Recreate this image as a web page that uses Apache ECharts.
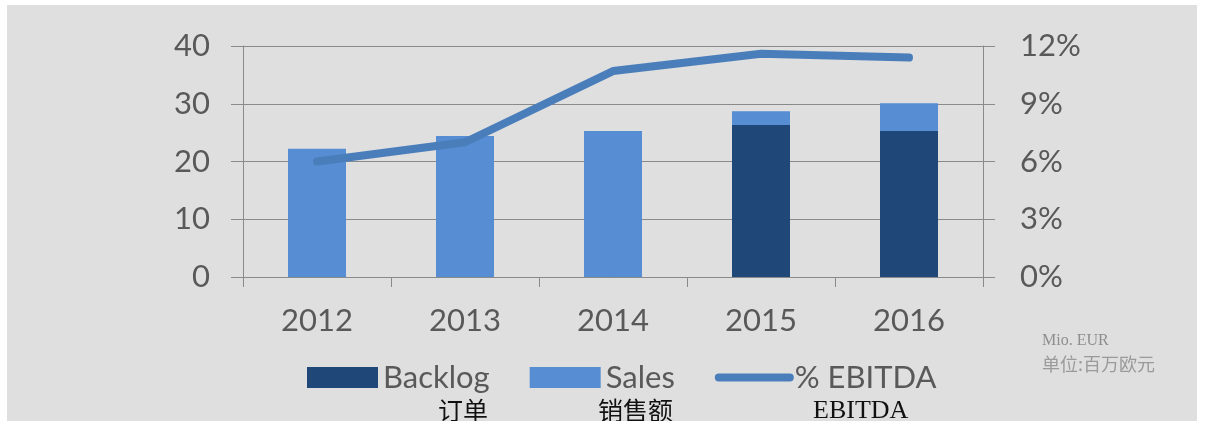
<!DOCTYPE html>
<html>
<head>
<meta charset="utf-8">
<script src="https://cdn.jsdelivr.net/npm/echarts@6/dist/echarts.min.js"></script>
<style>
  html, body { margin: 0; padding: 0; background: #ffffff; }
  #chart { width: 1209px; height: 421px; }
</style>
</head>
<body>
<div id="chart"></div>
<script>
// chart data
var years = ["2012", "2013", "2014", "2015", "2016"];
var backlog = [0, 0, 0, 26.3, 25.3];
var sales = [22.2, 24.4, 25.3, 2.4, 4.8];
var ebitdaPct = [6.0, 7.0, 10.7, 11.6, 11.4];

var leftTicks = { min: 0, max: 40, interval: 10 };
var rightTicks = { min: 0, max: 12, interval: 3 };

var myChart = echarts.init(document.getElementById("chart"), null, { renderer: "canvas" });

var axisGray = "#8a8a8a";
var labelGray = "#595959";
var font = "Lato";

var option = {
  animation: false,
  backgroundColor: "#ffffff",
  graphic: [
    // grey panel behind the chart
    { type: "rect", z: -10, shape: { x: 7, y: 5, width: 1190, height: 416 }, style: { fill: "#dfdfdf" } },
    { type: "text", style: { x: 438, y: 398, text: "订单", font: "25px 'Noto Sans CJK SC'", fill: "#111" } },
    { type: "text", style: { x: 598, y: 398, text: "销售额", font: "25px 'Noto Sans CJK SC'", fill: "#111" } },
    { type: "text", style: { x: 813, y: 398, text: "EBITDA", font: "26px 'Liberation Serif'", fill: "#111" } },
    { type: "text", style: { x: 1042, y: 333, text: "Mio. EUR", font: "16px 'Liberation Serif'", fill: "#8e8e8e" } },
    { type: "text", style: { x: 1042, y: 355, text: "单位:百万欧元", font: "18px 'Noto Sans CJK SC'", fill: "#9a9a9a" } }
  ],
  legend: {
    left: 302,
    top: 357,
    itemWidth: 71,
    itemHeight: 21,
    itemGap: 40,
    textStyle: { fontFamily: font, fontSize: 31, color: labelGray },
    data: [
      { name: "Backlog", icon: "rect" },
      { name: "Sales", icon: "rect" },
      { name: "% EBITDA", itemStyle: { opacity: 0 }, lineStyle: { width: 8, cap: "round", opacity: 1 } }
    ]
  },
  grid: { left: 243, right: 226, top: 46, bottom: 144 },
  xAxis: {
    type: "category",
    data: years,
    axisLine: { lineStyle: { color: axisGray } },
    axisTick: { show: true, length: 10, lineStyle: { color: axisGray } },
    axisLabel: { fontFamily: font, fontSize: 31, color: labelGray, margin: 28 }
  },
  yAxis: [
    {
      type: "value",
      min: leftTicks.min,
      max: leftTicks.max,
      interval: leftTicks.interval,
      axisLine: { show: true, lineStyle: { color: axisGray } },
      axisTick: { show: true, length: 12, lineStyle: { color: axisGray } },
      splitLine: { lineStyle: { color: axisGray } },
      axisLabel: { fontFamily: font, fontSize: 31, color: labelGray, margin: 33 }
    },
    {
      type: "value",
      min: rightTicks.min,
      max: rightTicks.max,
      interval: rightTicks.interval,
      axisLine: { show: true, lineStyle: { color: axisGray } },
      axisTick: { show: true, length: 12, lineStyle: { color: axisGray } },
      splitLine: { show: false },
      axisLabel: { fontFamily: font, fontSize: 31, color: labelGray, margin: 37, formatter: "{value}%" }
    }
  ],
  series: [
    {
      name: "Backlog",
      type: "bar",
      stack: "total",
      barWidth: 58,
      itemStyle: { color: "#1f4778" },
      data: backlog
    },
    {
      name: "Sales",
      type: "bar",
      stack: "total",
      barWidth: 58,
      itemStyle: { color: "#568dd3" },
      data: sales
    },
    {
      name: "% EBITDA",
      type: "line",
      yAxisIndex: 1,
      symbol: "none",
      z: 5,
      lineStyle: { width: 8, color: "#4a7ebb", cap: "round", join: "round" },
      itemStyle: { color: "#4a7ebb" },
      data: ebitdaPct
    }
  ]
};

myChart.setOption(option);
window.addEventListener("resize", myChart.resize);
</script>
</body>
</html>
